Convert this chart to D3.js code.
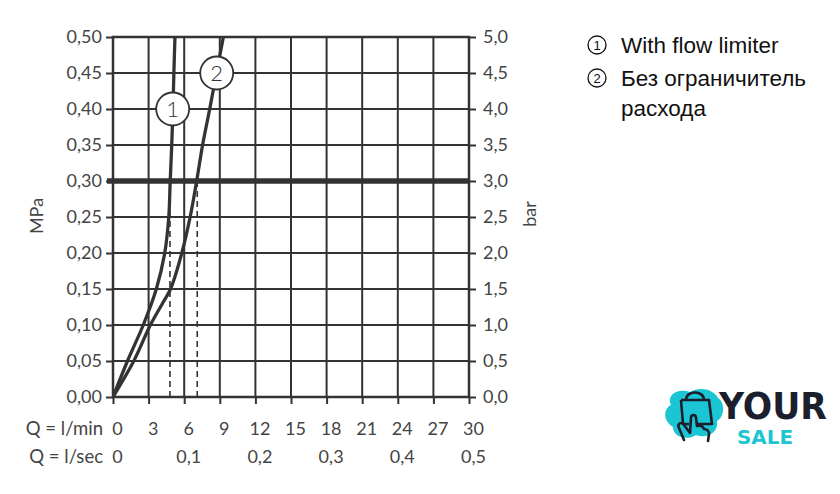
<!DOCTYPE html>
<html><head><meta charset="utf-8">
<script src="https://cdn.jsdelivr.net/npm/d3@7"></script>
<style>
html,body{margin:0;padding:0;background:#fff;}
svg{display:block;}
</style></head>
<body>
<svg id="c" width="840" height="494"></svg>
<script>
// ---- data ----
const flowTicksMin = [0,3,6,9,12,15,18,21,24,27,30];
const flowTicksSec = [0,0.1,0.2,0.3,0.4,0.5];
const mpaTicks = [0,0.05,0.10,0.15,0.20,0.25,0.30,0.35,0.40,0.45,0.50];
const barTicks = [0,0.5,1,1.5,2,2.5,3,3.5,4,4.5,5];
// curve 1: with flow limiter (Q l/min, p MPa)
const curve1Q = [0, 1.22, 2.55, 3.65, 4.36, 4.7, 4.82, 4.95, 5.05, 5.13, 5.22];
const curve1P = [0, 0.05, 0.10, 0.15, 0.20, 0.25, 0.30, 0.35, 0.40, 0.45, 0.50];
// curve 2: without flow limiter
const curve2Q = [0, 1.75, 3.15, 4.35, 4.85, 5.8, 6.5, 7.05, 7.55, 8.15, 8.72, 9.3];
const curve2P = [0, 0.05, 0.10, 0.135, 0.15, 0.20, 0.25, 0.30, 0.35, 0.40, 0.45, 0.50];
const refPressure = 0.30;
const dashedQ = [4.8, 7.1];
const markerLabels = ["1","2"];
const markerQ = [5.03, 8.74];
const markerP = [0.40, 0.45];
const legendLabels = [["With flow limiter"],["Без ограничитель","расхода"]];

// ---- layout ----
const svg = d3.select("#c");
const L = 113, R = 469, T = 37, B = 397;
const x = d3.scaleLinear().domain([0,30]).range([L,R]);
const xs = d3.scaleLinear().domain([0,0.5]).range([L,R]);
const y = d3.scaleLinear().domain([0,0.5]).range([B,T]);
const y2 = d3.scaleLinear().domain([0,5]).range([B,T]);
const ink = "#333";
const txt = "#444";
const font = "Lato, 'Noto Sans', sans-serif";

// grid
const g = svg.append("g");
g.selectAll("line.v").data(flowTicksMin).join("line")
  .attr("x1",d=>x(d)).attr("x2",d=>x(d)).attr("y1",T).attr("y2",B)
  .attr("stroke",ink).attr("stroke-width",2);
g.selectAll("line.h").data(mpaTicks).join("line")
  .attr("x1",L).attr("x2",R).attr("y1",d=>y(d)).attr("y2",d=>y(d))
  .attr("stroke",ink).attr("stroke-width",2);

// axes
function styleAxis(sel){
  sel.select(".domain").remove();
  sel.selectAll(".tick line").attr("stroke",ink).attr("stroke-width",2);
  sel.selectAll(".tick text").attr("fill",txt).style("font-family",font).style("font-size","18px");
}
const fmt2 = d=>d.toFixed(2).replace(".",",");
const fmt1 = d=>d.toFixed(1).replace(".",",");
svg.append("g").attr("transform",`translate(${L},0)`)
  .call(d3.axisLeft(y).tickValues(mpaTicks).tickFormat(fmt2).tickSizeInner(7).tickSizeOuter(0).tickPadding(4))
  .call(styleAxis);
svg.append("g").attr("transform",`translate(${R},0)`)
  .call(d3.axisRight(y2).tickValues(barTicks).tickFormat(fmt1).tickSizeInner(7).tickSizeOuter(0).tickPadding(7))
  .call(styleAxis);
const bx = svg.append("g").attr("transform",`translate(0,${B})`)
  .call(d3.axisBottom(x).tickValues(flowTicksMin).tickFormat(d3.format("d")).tickSizeInner(7).tickSizeOuter(0))
  .call(styleAxis);
bx.selectAll(".tick text").attr("y",38).attr("dy",0).attr("dx",4);
const bs = svg.append("g").attr("transform",`translate(0,${B})`)
  .call(d3.axisBottom(xs).tickValues(flowTicksSec).tickFormat(d=>d===0?"0":d.toFixed(1).replace(".",",")).tickSize(0))
  .call(styleAxis);
bs.selectAll(".tick text").attr("y",66).attr("dy",0).attr("dx",4);

// frame
svg.append("rect").attr("x",L).attr("y",T).attr("width",R-L).attr("height",B-T)
  .attr("fill","none").attr("stroke",ink).attr("stroke-width",2.5);

// axis titles
svg.append("text").attr("x",103).attr("y",435).attr("text-anchor","end")
  .attr("fill",txt).style("font-family",font).style("font-size","18.5px").text("Q = l/min");
svg.append("text").attr("x",103).attr("y",463).attr("text-anchor","end")
  .attr("fill",txt).style("font-family",font).style("font-size","18.5px").text("Q = l/sec");
svg.append("text").attr("transform","translate(43,216) rotate(-90)").attr("text-anchor","middle")
  .attr("fill",txt).style("font-family",font).style("font-size","18px").text("MPa");
svg.append("text").attr("transform","translate(536,214) rotate(-90)").attr("text-anchor","middle")
  .attr("fill",txt).style("font-family",font).style("font-size","18px").text("bar");

// dashed verticals
svg.selectAll("line.dash").data(dashedQ).join("line")
  .attr("x1",d=>x(d)).attr("x2",d=>x(d)).attr("y1",y(refPressure)).attr("y2",B)
  .attr("stroke",ink).attr("stroke-width",1.6).attr("stroke-dasharray","6,4");

// reference pressure line
svg.append("line").attr("x1",L-6).attr("x2",R+1).attr("y1",y(refPressure)).attr("y2",y(refPressure))
  .attr("stroke",ink).attr("stroke-width",5.5);

// curves
const line = d3.line().x(d=>x(d[0])).y(d=>y(d[1])).curve(d3.curveCatmullRom.alpha(0.5));
const c1 = curve1Q.map((q,i)=>[q,curve1P[i]]);
const c2 = curve2Q.map((q,i)=>[q,curve2P[i]]);
svg.append("defs").append("clipPath").attr("id","clip").append("rect")
  .attr("x",L).attr("y",T).attr("width",R-L).attr("height",B-T);
svg.append("g").attr("clip-path","url(#clip)").selectAll("path.curve").data([c1,c2]).join("path")
  .attr("d",line).attr("fill","none").attr("stroke",ink).attr("stroke-width",3.3);

// markers
const mk = svg.selectAll("g.mk").data(markerLabels).join("g")
  .attr("transform",(d,i)=>`translate(${x(markerQ[i])},${y(markerP[i])})`);
mk.append("circle").attr("r",16.5).attr("fill","#fff").attr("stroke",ink).attr("stroke-width",1.8);
mk.append("text").attr("text-anchor","middle").attr("dy","0.36em").attr("fill",ink)
  .style("font-family",font).style("font-weight",300).style("font-size","22px").text(d=>d);

// legend
const lg = svg.selectAll("g.lg").data(legendLabels).join("g")
  .attr("transform",(d,i)=>`translate(597,${45+i*33})`);
lg.append("circle").attr("r",9).attr("fill","none").attr("stroke","#111").attr("stroke-width",1.3);
lg.append("text").attr("text-anchor","middle").attr("dy","0.36em").attr("fill","#111")
  .style("font-family","'Liberation Sans', Arial, sans-serif").style("font-size","13px").text((d,i)=>markerLabels[i]);
lg.each(function(d){
  d3.select(this).selectAll("text.t").data(d).join("text")
    .attr("x",24).attr("y",(dd,j)=>8+j*30).attr("fill","#111")
    .style("font-family","'Liberation Sans', Arial, sans-serif").style("font-size","22.5px").text(dd=>dd);
});

// logo
const logo = svg.append("g");
logo.append("path").attr("fill","#1cc5d4")
  .attr("d","M671,405 C666,394 679,388 690,392 C699,386 714,389 718,398 C726,403 724,418 717,421 C719,433 706,439 696,435 C687,441 673,437 673,427 C663,421 663,409 671,405 Z");
logo.append("path").attr("fill","none").attr("stroke","#1b1e2c").attr("stroke-width",2.6).attr("stroke-linejoin","round")
  .attr("d","M681,400 L709,400 L712,424 L697,424 M686,400 C686,390 704,390 704,400 M689,424 L683,424 L681,400");
logo.append("path").attr("fill","none").attr("stroke","#1b1e2c").attr("stroke-width",2.6).attr("stroke-linecap","round").attr("stroke-linejoin","round")
  .attr("d","M684,440 L679,428 C677,424 681,421 684,425 L690,433 L691,418 C691,414 696,414 696,418 L697,426 C700,425 703,426 704,429 C707,429 709,431 709,434 L708,441");
logo.append("text").attr("x",719).attr("y",419).attr("fill","#1b1e2c")
  .attr("textLength",108).attr("lengthAdjust","spacingAndGlyphs")
  .style("font-family","'DejaVu Sans', sans-serif").style("font-weight",900).style("font-size","37px").text("YOUR");
logo.append("text").attr("x",737).attr("y",444).attr("fill","#1cc5d4")
  .attr("textLength",56).attr("lengthAdjust","spacingAndGlyphs")
  .style("font-family","'DejaVu Sans', sans-serif").style("font-weight",700).style("font-size","20px").text("SALE");
</script>
</body></html>
